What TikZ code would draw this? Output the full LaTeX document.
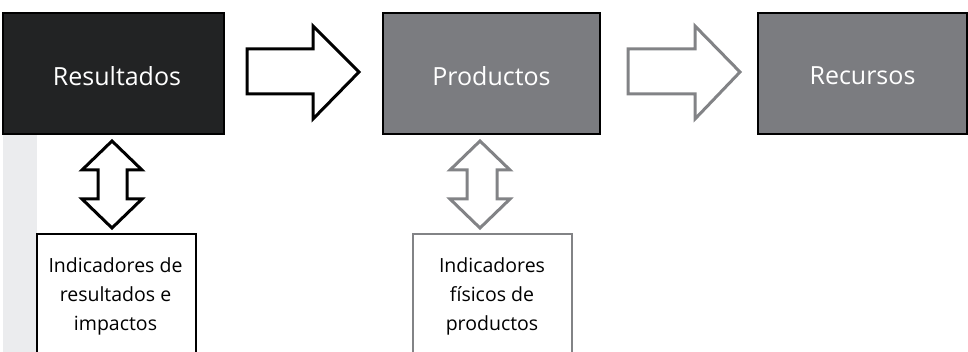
\documentclass[tikz,border=0pt]{standalone}
\usepackage{fontspec}
\setmainfont{Open Sans}
\definecolor{dark}{HTML}{222324}
\definecolor{mid}{HTML}{7B7C80}
\definecolor{arrgrey}{HTML}{828386}
\definecolor{strip}{HTML}{EBECEE}
\tikzset{
  bigbox/.style={draw=black, line width=2pt, minimum width=#1, minimum height=121pt, inner sep=0pt, text=white},
  boxtext/.style={text=white, font=\fontsize{25}{30}\selectfont},
  indbox/.style={draw=#1, line width=2pt, fill=white, minimum width=159pt, minimum height=140pt, inner sep=0pt, anchor=north west},
  indtext/.style={align=center, font=\fontsize{19.5}{29}\selectfont, text=black},
  blockarrow/.style={draw=#1, line width=3pt, fill=white, line join=miter}
}
\begin{document}
\begin{tikzpicture}[x=1pt,y=-1pt]
\useasboundingbox (0,0) rectangle (968,352);
\clip (0,0) rectangle (968,352);
% grey strip
\fill[strip] (3,134) rectangle (37,352);
% main boxes
\node[bigbox=221pt, fill=dark] (res) at (113.5,73.5) {};
\node[bigbox=217pt, fill=mid] (prod) at (491.5,73.5) {};
\node[bigbox=209pt, fill=mid] (rec) at (862.5,73.5) {};
\node[boxtext] (tres) at (117,76) {Resultados};
\node[boxtext] (tprod) at (491.5,76) {Productos};
\node[boxtext] (trec) at (862.5,76) {Recursos};
% indicator boxes
\node[indbox=black] (ind1) at (36,233) {};
\node[indbox=arrgrey] (ind2) at (412,233) {};
\node[indtext] (t1) at (115.5,296) {Indicadores de\\resultados e\\impactos};
\node[indtext] (t2) at (492,296) {Indicadores\\físicos de\\productos};
% right block arrows
\draw[blockarrow=black] (247,49) -- (313,49) -- (313,26) -- (359,72) -- (313,119) -- (313,94) -- (247,94) -- cycle;
\draw[blockarrow=arrgrey] (628,49) -- (695,49) -- (695,26) -- (740,72) -- (695,119) -- (695,94) -- (628,94) -- cycle;
% up-down arrows
\draw[blockarrow=black] (112,141) -- (142,170) -- (127,170) -- (127,199) -- (142,199) -- (112,228) -- (82,199) -- (98,199) -- (98,170) -- (82,170) -- cycle;
\draw[blockarrow=arrgrey] (480,141) -- (510,170) -- (497,170) -- (497,199) -- (510,199) -- (480,228) -- (450,199) -- (467,199) -- (467,170) -- (450,170) -- cycle;
\end{tikzpicture}
\end{document}
